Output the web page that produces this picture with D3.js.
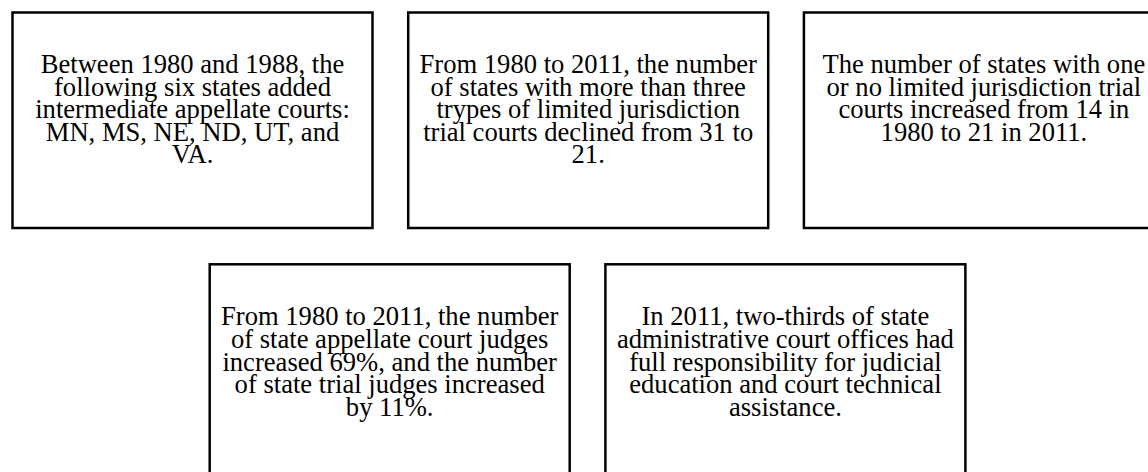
<!DOCTYPE html>
<html><head><meta charset="utf-8">
<script src="https://cdn.jsdelivr.net/npm/d3@7"></script>
<style>html,body{margin:0;padding:0;background:#fff;overflow:hidden}</style>
</head><body>
<svg id="c" width="1148" height="472"></svg>
<script>
const rowTop = [
  ["Between 1980 and 1988, the","following six states added","intermediate appellate courts:","MN, MS, NE, ND, UT, and","VA."],
  ["From 1980 to 2011, the number","of states with more than three","trypes of limited jurisdiction","trial courts declined from 31 to","21."],
  ["The number of states with one","or no limited jurisdiction trial","courts increased from 14 in","1980 to 21 in 2011."]
];
const rowBottom = [
  ["From 1980 to 2011, the number","of state appellate court judges","increased 69%, and the number","of state trial judges increased","by 11%."],
  ["In 2011, two-thirds of state","administrative court offices had","full responsibility for judicial","education and court technical","assistance."]
];

const svg = d3.select("#c");
const boxW = 360, boxH = 215.5, step = 395.7;
const xTop = d3.scaleLinear().domain([0,1]).range([12.5, 12.5 + step]);
const xBot = d3.scaleLinear().domain([0,1]).range([209.7, 209.7 + step]);
const rows = [
  {data: rowTop, x: xTop, y: 12.5, textY: 73},
  {data: rowBottom, x: xBot, y: 264.3, textY: 325.4}
];
const lineH = 22.6;
rows.forEach(r => {
  const g = svg.selectAll(null).data(r.data).enter().append("g")
    .attr("transform", (d,i) => `translate(${r.x(i)},${r.y})`);
  g.append("rect").attr("x",0).attr("y",0).attr("width",boxW).attr("height",boxH)
    .attr("fill","#fff").attr("stroke","#000").attr("stroke-width",2.5);
  g.append("text")
    .attr("text-anchor","middle")
    .attr("font-family","'Liberation Serif','Times New Roman',serif")
    .attr("font-size",26.6).attr("fill","#000")
    .selectAll("tspan").data(d => d).enter().append("tspan")
    .attr("x", boxW/2).attr("y",(d,i) => r.textY - r.y + i*lineH)
    .text(d => d);
});
</script>
</body></html>
